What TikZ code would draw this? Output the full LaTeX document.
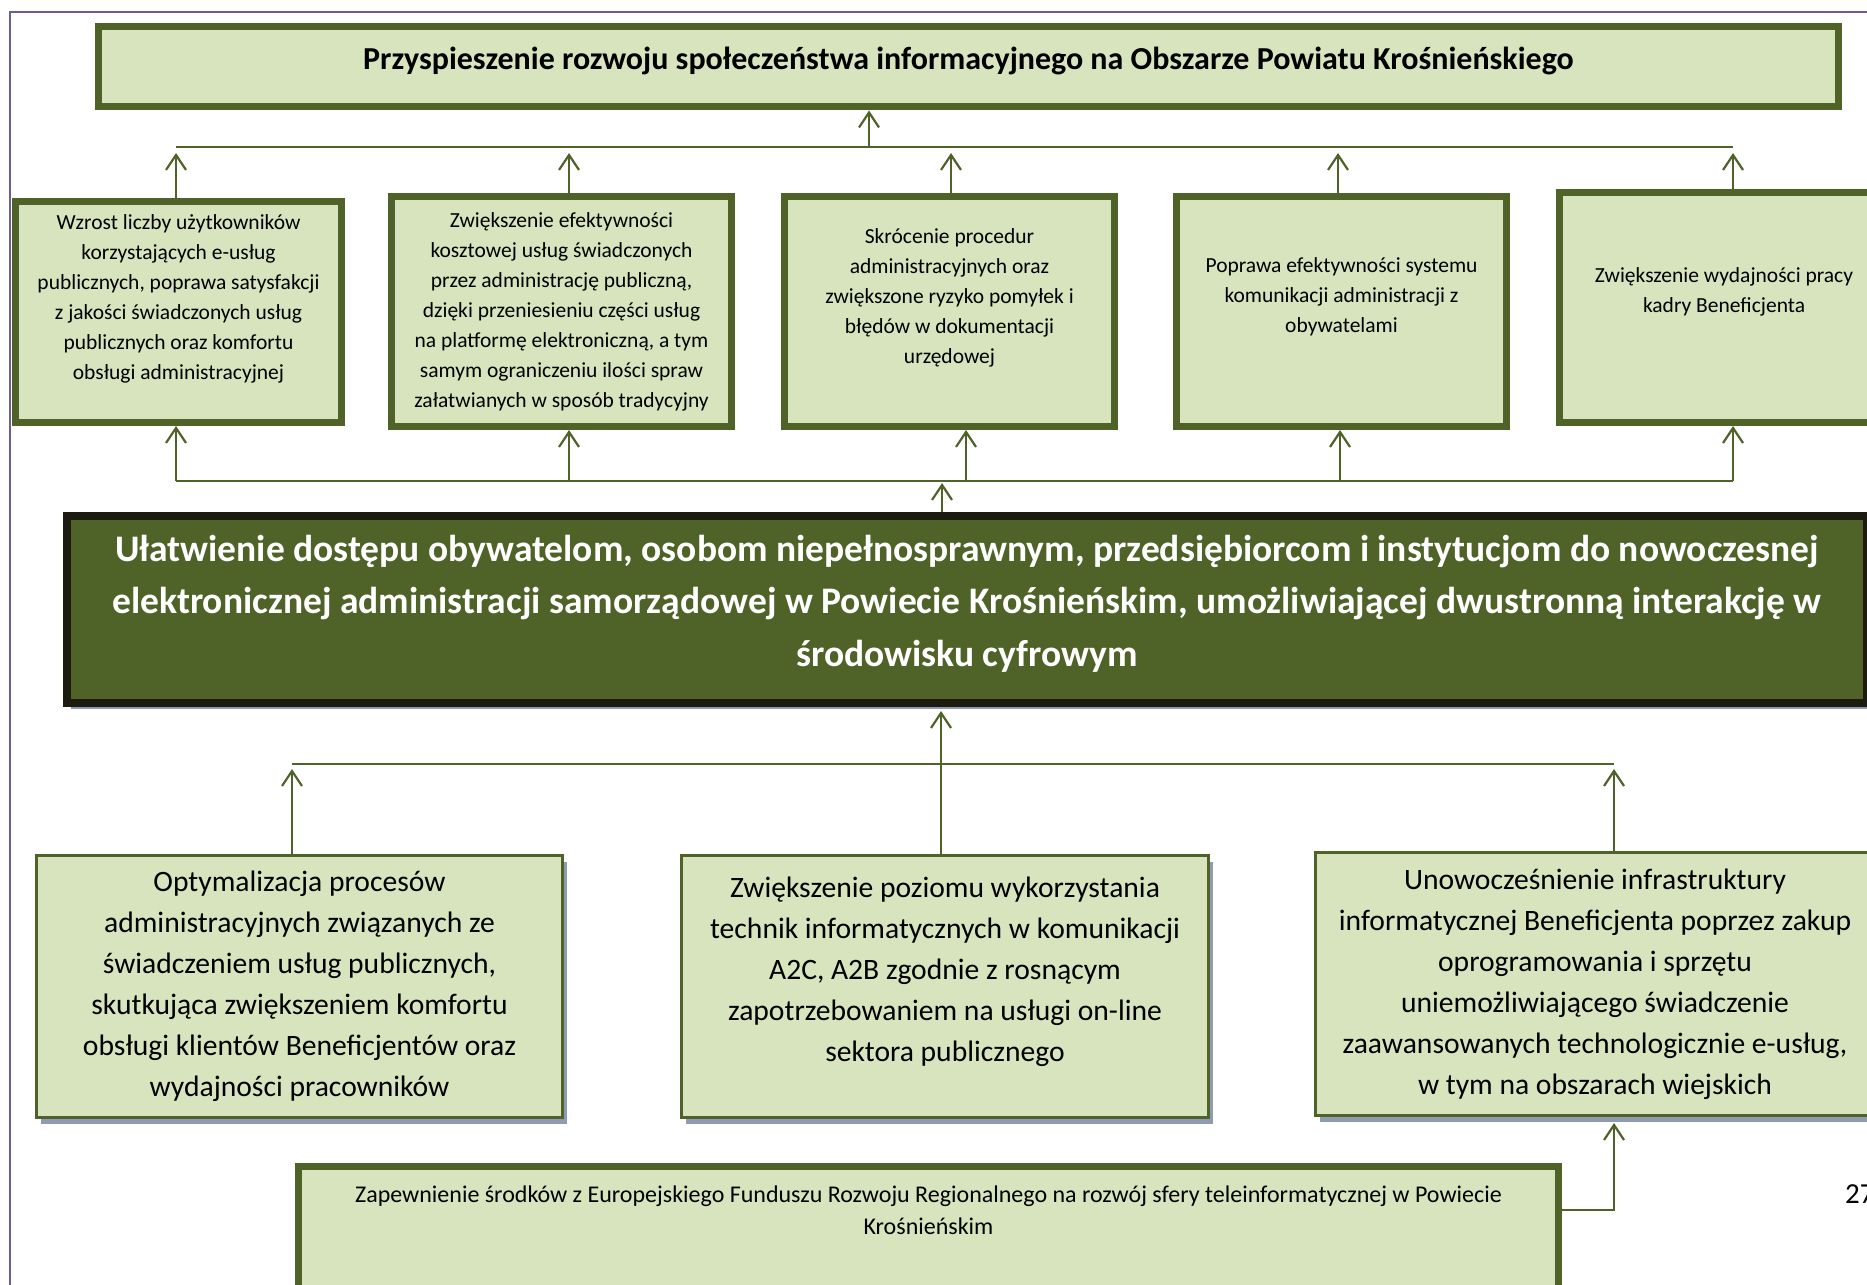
\documentclass[tikz,border=0pt]{standalone}
\usepackage{fontspec}
\setmainfont{Carlito}
\usepackage{xcolor}
\usepackage{tikz}
\usetikzlibrary{arrows.meta,shadows}
\definecolor{olivelt}{HTML}{D7E4BD}
\definecolor{olivedk}{HTML}{4F6228}
\definecolor{coreedge}{HTML}{1D1B10}
\definecolor{shadowbl}{HTML}{8E9BB2}
\definecolor{framepl}{HTML}{6E5A96}
\tikzset{
  blk/.style   = {draw=olivedk, fill=olivelt, align=center, inner sep=4pt},
  goal/.style  = {blk, line width=7pt, font=\bfseries\fontsize{32}{38}\selectfont},
  eff/.style   = {blk, line width=7pt, font=\fontsize{21.5}{30}\selectfont},
  core/.style  = {draw=coreedge, fill=olivedk, line width=8pt, text=white,
                  align=center, inner sep=4pt,
                  font=\bfseries\fontsize{37.5}{52.5}\selectfont,
                  drop shadow={shadow xshift=4pt, shadow yshift=-6pt,
                               fill=shadowbl, opacity=1}},
  cause/.style = {blk, line width=3pt, font=\fontsize{29.6}{41}\selectfont,
                  drop shadow={shadow xshift=4pt, shadow yshift=-6pt,
                               fill=shadowbl, opacity=1}},
  fund/.style  = {blk, line width=6.5pt, font=\fontsize{24}{32}\selectfont},
  ar/.style    = {draw=olivedk, line width=2.2pt,
                  -{Straight Barb[length=15pt,width=20pt]}},
  bus/.style   = {draw=olivedk, line width=2.2pt},
}

\begin{document}
\begin{tikzpicture}[x=1pt,y=-1pt]
  \useasboundingbox (0,0) rectangle (1867,1284);
  \clip (0,0) rectangle (1867,1284);
  \draw[framepl, line width=2pt] (10,1300) -- (10,12) -- (1880,12);

  % goal
  \node[goal, minimum width=1740pt, minimum height=80pt, text depth=18pt] (goal) at (968.5,67)
       {Przyspieszenie rozwoju społeczeństwa informacyjnego na Obszarze Powiatu Krośnieńskiego};

  % effects
  \node[eff, minimum width=326pt, minimum height=221pt, text depth=30pt] (e1) at (178.5,312)
       {Wzrost liczby użytkowników\\korzystających e-usług\\publicznych, poprawa satysfakcji\\
        z jakości świadczonych usług\\publicznych oraz komfortu\\obsługi administracyjnej};
  \node[eff, minimum width=340pt, minimum height=230pt] (e2) at (561.5,311.5)
       {Zwiększenie efektywności\\kosztowej usług świadczonych\\przez administrację publiczną,\\
        dzięki przeniesieniu części usług\\na platformę elektroniczną, a tym\\
        samym ograniczeniu ilości spraw\\załatwianych w sposób tradycyjny};
  \node[eff, minimum width=330pt, minimum height=230pt, text depth=30pt] (e3) at (949.5,311.5)
       {Skrócenie procedur\\administracyjnych oraz\\zwiększone ryzyko pomyłek i\\
        błędów w dokumentacji\\urzędowej};
  \node[eff, minimum width=330pt, minimum height=230pt, text depth=32pt] (e4) at (1341.5,311.5)
       {Poprawa efektywności systemu\\komunikacji administracji z\\obywatelami};
  \node[eff, minimum width=329pt, minimum height=230pt, text depth=34pt] (e5) at (1724,307.5)
       {Zwiększenie wydajności pracy\\kadry Beneficjenta};

  % core objective
  \node[core, minimum width=1800pt, minimum height=187pt, text depth=18pt] (core) at (967,609.5)
       {Ułatwienie dostępu obywatelom, osobom niepełnosprawnym, przedsiębiorcom i instytucjom do nowoczesnej\\
        elektronicznej administracji samorządowej w Powiecie Krośnieńskim, umożliwiającej dwustronną interakcję w\\
        środowisku cyfrowym};

  % causes
  \node[cause, minimum width=526pt, minimum height=262pt] (c1) at (299.5,986.5)
       {Optymalizacja procesów\\administracyjnych związanych ze\\świadczeniem usług publicznych,\\
        skutkująca zwiększeniem komfortu\\obsługi klientów Beneficjentów oraz\\wydajności pracowników};
  \node[cause, minimum width=527pt, minimum height=262pt, text depth=34pt] (c2) at (945,986.5)
       {Zwiększenie poziomu wykorzystania\\technik informatycznych w komunikacji\\
        A2C, A2B zgodnie z rosnącym\\zapotrzebowaniem na usługi on-line\\sektora publicznego};
  \node[cause, minimum width=559pt, minimum height=263pt] (c3) at (1595,984)
       {Unowocześnienie infrastruktury\\informatycznej Beneficjenta poprzez zakup\\
        oprogramowania i sprzętu\\uniemożliwiającego świadczenie\\
        zaawansowanych technologicznie e-usług,\\w tym na obszarach wiejskich};

  \node[fund, anchor=north, minimum width=1260pt, inner ysep=19.5pt, text depth=150pt] (fund) at (928.5,1163)
       {Zapewnienie środków z Europejskiego Funduszu Rozwoju Regionalnego na rozwój sfery teleinformatycznej w Powiecie\\
        Krośnieńskim};

  \node[font=\fontsize{29}{34}\selectfont, anchor=west, inner sep=0pt] (pnum) at (1845,1194) {27};

  % upper tree
  \coordinate (ul) at (176,147);
  \coordinate (ur) at (1733,147);
  \coordinate (um) at (869,147);
  \coordinate (ll) at (176,481);
  \coordinate (lr) at (1733,481);
  \draw[bus] (ul) -- (ur);
  \draw[bus] (ll) -- (lr);
  \draw[ar] (um) -- (um |- goal.south);
  \foreach \b/\dx in {e1/-2.5,e2/7.5,e3/1.5,e4/-3.5,e5/9}
    \draw[ar] ([xshift=\dx pt]\b.north) -- ([xshift=\dx pt, yshift=-6pt]\b.north |- ul);
  \foreach \b/\dx in {e1/-2.5,e2/7.5,e3/16.5,e4/-1.5,e5/9}
    \draw[ar] ([xshift=\dx pt]\b.south |- ll) -- ([xshift=\dx pt]\b.south);
  \draw[ar] ([xshift=-25pt]core.north) -- ([xshift=-25pt, yshift=-2pt]core.north |- ll);

  % lower tree
  \coordinate (bl) at (292,764);
  \coordinate (br) at (1614,764);
  \draw[bus] (bl) -- (br);
  \draw[ar] ([xshift=-4pt]c2.north) -- ([xshift=-4pt, yshift=-4pt]c2.north |- core.south);
  \draw[ar] ([xshift=-7.5pt]c1.north) -- ([xshift=-7.5pt, yshift=-5pt]c1.north |- bl);
  \draw[ar] ([xshift=19pt]c3.north) -- ([xshift=19pt, yshift=-5pt]c3.north |- br);
  \draw[ar] ([yshift=-47pt]fund.north east) -| ([xshift=19pt, yshift=-6pt]c3.south);
\end{tikzpicture}
\end{document}
